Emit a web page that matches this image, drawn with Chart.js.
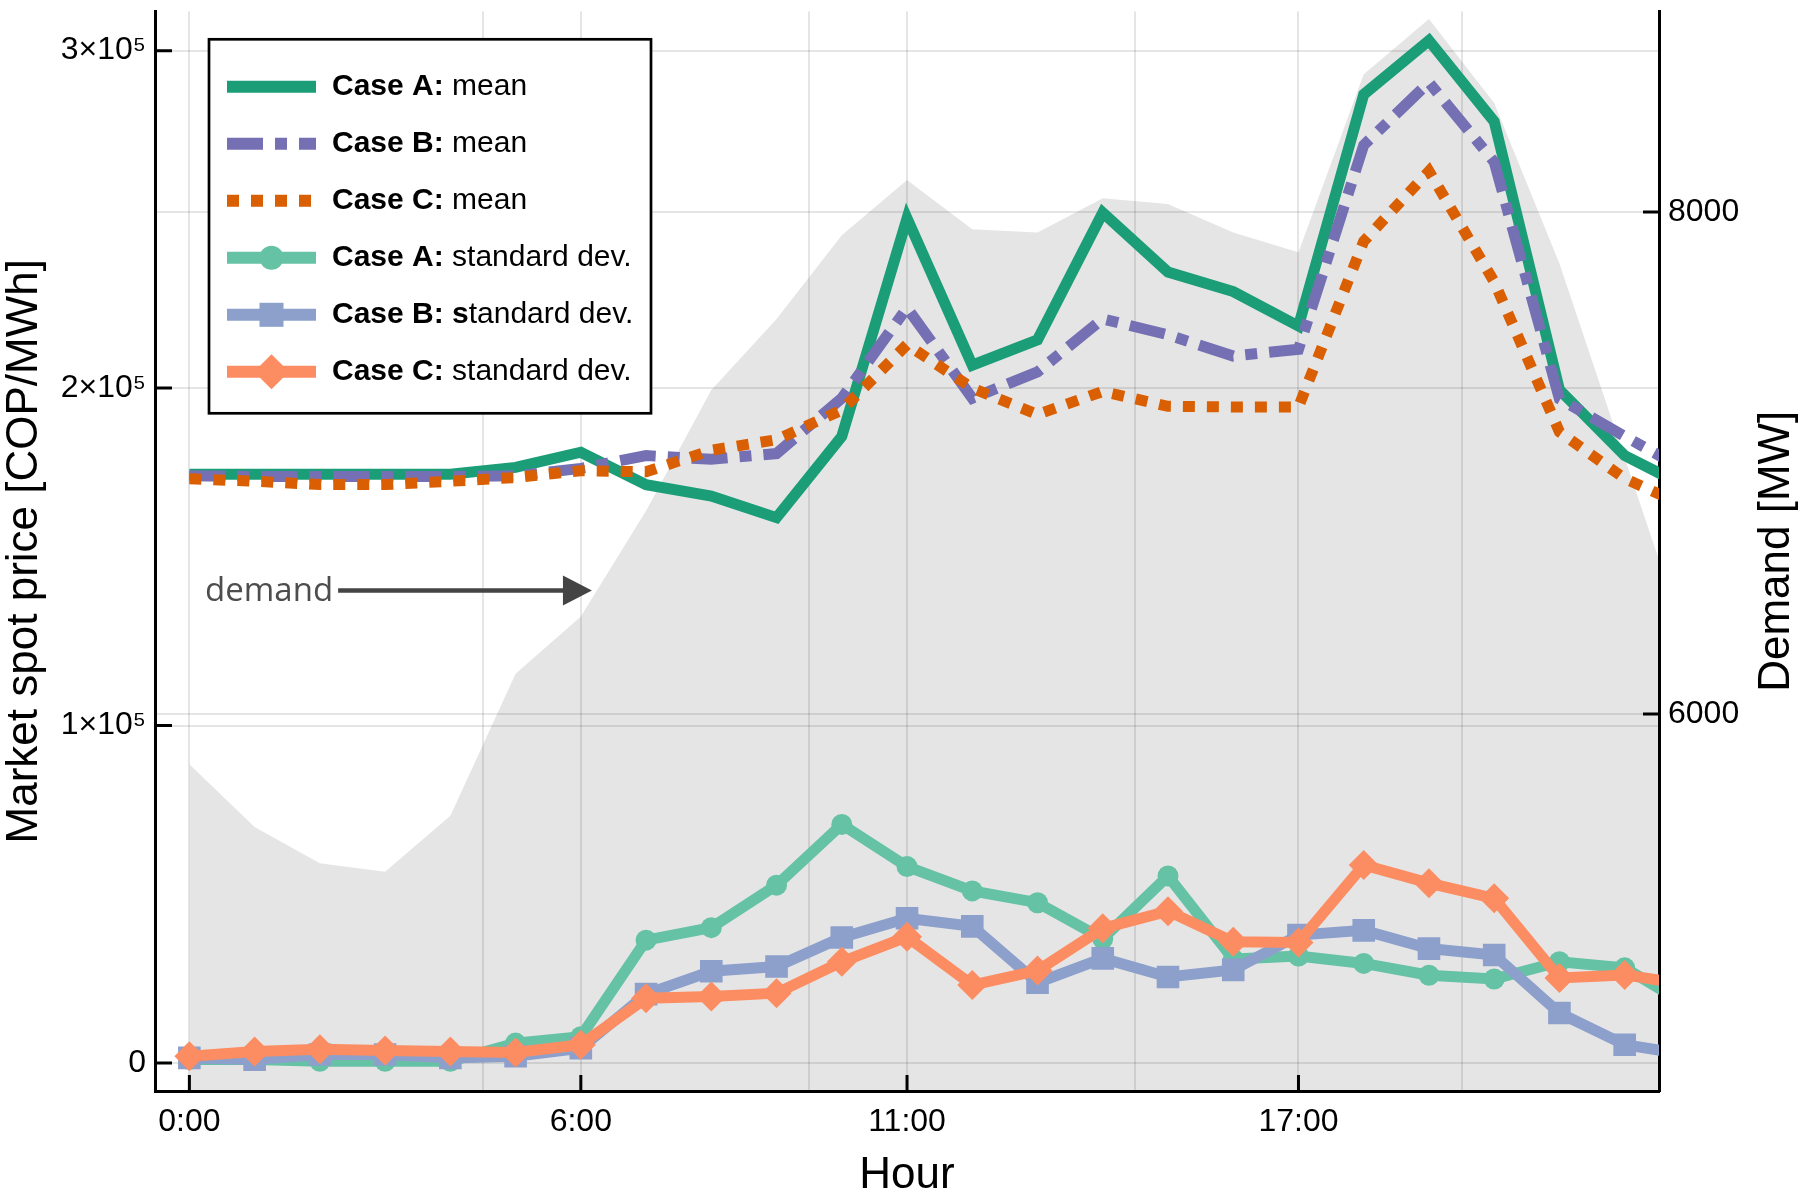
<!DOCTYPE html>
<html>
<head>
<meta charset="utf-8">
<script src="https://cdn.jsdelivr.net/npm/chart.js@4.4.1/dist/chart.umd.min.js"></script>
<style>
  html, body { margin: 0; padding: 0; background: #fff; }
  #wrap { width: 1800px; height: 1200px; position: relative; }
</style>
</head>
<body>
<div id="wrap"><canvas id="spotChart"></canvas></div>
<script>
// ===== DATA =====
const hours = [0, 1, 2, 3, 4, 5, 6, 7, 8, 9, 10, 11, 12, 13, 14, 15, 16, 17, 18, 19, 20, 21, 22, 23];

// system demand [MW] (right axis, grey area)
const demandMW = [5800, 5550, 5405, 5372, 5595, 6160, 6389, 6810, 7291, 7574, 7908, 8128,
                  7931, 7918, 8055, 8032, 7918, 7840, 8549, 8769, 8434, 7795, 7020, 6250];

// mean spot price [COP/MWh]
const meanCaseA = [174500, 174500, 174500, 174500, 174500, 176500, 181000, 171400, 168000, 161600, 185700, 250300,
                   206800, 214300, 252000, 234400, 228600, 218400, 287000, 303000, 279000, 199500, 180000, 170200];
const meanCaseB = [174000, 173800, 173800, 173800, 173800, 174000, 176200, 180000, 178900, 180600, 197000, 223800,
                   197000, 204800, 220500, 215800, 209500, 211500, 272000, 290600, 267000, 196800, 185700, 175000];
const meanCaseC = [173100, 172400, 171400, 171400, 172400, 173500, 175500, 175200, 181600, 184700, 193500, 212900,
                   200000, 192200, 199000, 194600, 194400, 194400, 243500, 264300, 231500, 187000, 173200, 164500];

// standard deviation of spot price [COP/MWh]
const stdCaseA = [1000, 1000, 500, 500, 500, 5900, 7800, 36400, 40100, 52700, 70700, 58200,
                  51000, 47500, 36800, 55400, 30800, 31700, 29500, 26000, 24900, 30000, 28200, 16700];
const stdCaseB = [1500, 1000, 2500, 2500, 1500, 2000, 4400, 20400, 27200, 28600, 37200, 42900,
                  40500, 23800, 31000, 25500, 27600, 37900, 39300, 33900, 32000, 14800, 5400, 2400];
const stdCaseC = [2000, 3400, 4100, 3700, 3400, 3100, 5400, 19200, 19700, 20700, 30000, 37400,
                  23100, 27400, 39900, 45000, 35900, 35700, 58700, 53300, 48800, 25200, 26100, 23200];

// ticks
const hourTicks = [0, 6, 11, 17];
const demandGridHours = [4.5, 9.5, 14.5, 19.5];
const priceTicks = [0, 100000, 200000, 300000];
const demandTicks = [6000, 8000];

// ===== STYLE =====
const FONT = '"Liberation Sans", Arial, sans-serif';
const GRID = 'rgba(0,0,0,0.1)';

function toXY(values) {
    return hours.map((h, i) => ({ x: h, y: values[i] }));
}

function lineSet(label, values, color, extra) {
    return Object.assign({
        label: label,
        data: toXY(values),
        borderColor: color,
        backgroundColor: color,
        pointBackgroundColor: color,
        pointBorderWidth: 0,
        pointRadius: 0,
        borderWidth: 11,
        borderCapStyle: 'butt',
        borderJoinStyle: 'miter',
        tension: 0,
        fill: false,
        clip: 0,
        yAxisID: 'y'
    }, extra);
}

const datasets = [
    {
        label: 'demand',
        data: toXY(demandMW),
        yAxisID: 'y2',
        fill: 'start',
        backgroundColor: 'rgba(0,0,0,0.1)',
        borderWidth: 0,
        pointRadius: 0,
        tension: 0,
        clip: 0,
        order: 10
    },
    lineSet('Case A:| mean', meanCaseA, '#1b9e77', { order: 6 }),
    lineSet('Case B:| mean', meanCaseB, '#7570b3', { order: 5, borderDash: [36, 12, 12, 12] }),
    lineSet('Case C:| mean', meanCaseC, '#d95f02', { order: 4, borderDash: [12, 12] }),
    lineSet('Case A:| standard dev.', stdCaseA, '#66c2a5', { order: 3, pointStyle: 'circle', pointRadius: 10.5, legendRadius: 12 }),
    lineSet('Case B: s|tandard dev.', stdCaseB, '#8da0cb', { order: 2, pointStyle: 'rect', pointRadius: 16, legendRadius: 17 }),
    lineSet('Case C:| standard dev.', stdCaseC, '#fc8d62', { order: 1, pointStyle: 'rectRot', pointRadius: 15, legendRadius: 17.5 })
];

// ===== PLUGINS =====
// inward tick marks on the three axes
const innerTicks = {
    id: 'innerTicks',
    afterDatasetsDraw(chart) {
        const { ctx, chartArea: a, scales } = chart;
        ctx.save();
        ctx.strokeStyle = '#000';
        ctx.lineWidth = 3;
        ctx.beginPath();
        priceTicks.forEach(v => {
            const y = scales.y.getPixelForValue(v);
            ctx.moveTo(a.left, y); ctx.lineTo(a.left + 17, y);
        });
        demandTicks.forEach(v => {
            const y = scales.y2.getPixelForValue(v);
            ctx.moveTo(a.right, y); ctx.lineTo(a.right - 16, y);
        });
        hourTicks.forEach(v => {
            const x = scales.x.getPixelForValue(v);
            ctx.moveTo(x, a.bottom); ctx.lineTo(x, a.bottom - 16);
        });
        ctx.stroke();
        ctx.restore();
    }
};

// "demand" note with arrow, placed in data coordinates
const demandNote = { textHour: 0.24, fromHour: 2.28, toHour: 6.17, price: 140000 };
const demandArrow = {
    id: 'demandArrow',
    afterDatasetsDraw(chart) {
        const { ctx, scales } = chart;
        const y = scales.y.getPixelForValue(demandNote.price);
        const x0 = scales.x.getPixelForValue(demandNote.textHour);
        const x1 = scales.x.getPixelForValue(demandNote.fromHour);
        const x2 = scales.x.getPixelForValue(demandNote.toHour);
        ctx.save();
        ctx.font = '33px "Open Sans", sans-serif';
        ctx.fillStyle = '#4d4d4d';
        ctx.textAlign = 'left';
        ctx.textBaseline = 'middle';
        ctx.fillText('demand', x0, y + 1);
        ctx.strokeStyle = '#444';
        ctx.fillStyle = '#444';
        ctx.lineWidth = 4.5;
        ctx.beginPath();
        ctx.moveTo(x1, y); ctx.lineTo(x2 - 26, y);
        ctx.stroke();
        ctx.beginPath();
        ctx.moveTo(x2, y); ctx.lineTo(x2 - 29, y - 15); ctx.lineTo(x2 - 29, y + 15);
        ctx.closePath();
        ctx.fill();
        ctx.restore();
    }
};

// right axis title, reading bottom to top like the left one
const rightTitle = {
    id: 'rightTitle',
    afterDraw(chart) {
        const { ctx, chartArea: a } = chart;
        ctx.save();
        ctx.translate(1777, (a.top + a.bottom) / 2);
        ctx.rotate(-Math.PI / 2);
        ctx.font = '44px ' + FONT;
        ctx.fillStyle = '#000';
        ctx.textAlign = 'center';
        ctx.textBaseline = 'middle';
        ctx.fillText('Demand [MW]', 0, 0);
        ctx.restore();
    }
};

// boxed legend with bold case names
const legendBox = {
    id: 'legendBox',
    afterDraw(chart) {
        const { ctx, chartArea: a } = chart;
        const bx = a.left + 54, by = a.top + 27.8, bw = 442, bh = 374;
        ctx.save();
        ctx.fillStyle = '#fff';
        ctx.fillRect(bx, by, bw, bh);
        ctx.lineWidth = 2.7;
        ctx.strokeStyle = '#000';
        ctx.strokeRect(bx, by, bw, bh);

        const lx0 = bx + 18, lx1 = bx + 107, tx = bx + 123;
        chart.data.datasets.slice(1).forEach((ds, i) => {
            const y = by + 47.5 + i * 57;
            ctx.beginPath();
            ctx.setLineDash(ds.borderDash || []);
            ctx.lineWidth = 12;
            ctx.lineCap = 'butt';
            ctx.strokeStyle = ds.borderColor;
            ctx.moveTo(lx0, y); ctx.lineTo(lx1, y);
            ctx.stroke();
            ctx.setLineDash([]);
            if (ds.pointRadius) {
                ctx.fillStyle = ds.borderColor;
                Chart.helpers.drawPoint(ctx, { pointStyle: ds.pointStyle, radius: ds.legendRadius, rotation: 0, borderWidth: 0 }, (lx0 + lx1) / 2, y);
            }
            const parts = ds.label.split('|');
            ctx.fillStyle = '#000';
            ctx.textBaseline = 'middle';
            ctx.textAlign = 'left';
            ctx.font = 'bold 30px ' + FONT;
            ctx.fillText(parts[0], tx, y);
            const w = ctx.measureText(parts[0]).width;
            ctx.font = '30px ' + FONT;
            ctx.fillText(parts[1], tx + w, y);
        });
        ctx.restore();
    }
};

// ===== CHART =====
const ctx = document.getElementById('spotChart').getContext('2d');

new Chart(ctx, {
    type: 'line',
    data: { datasets: datasets },
    options: {
        responsive: true,
        maintainAspectRatio: false,
        animation: false,
        events: [],
        layout: { autoPadding: false, padding: { top: 11.5, left: 0, right: 0, bottom: 0 } },
        plugins: {
            legend: { display: false },
            tooltip: { enabled: false }
        },
        scales: {
            x: {
                type: 'linear',
                position: 'bottom',
                min: -0.527,
                max: 22.526,
                afterBuildTicks: s => {
                    s.ticks = hourTicks.concat(demandGridHours).sort((p, q) => p - q).map(v => ({ value: v }));
                },
                afterFit: s => { s.height = 109; s.paddingLeft = 0; s.paddingRight = 0; },
                ticks: {
                    autoSkip: false,
                    maxRotation: 0,
                    padding: 12,
                    color: '#000',
                    font: { family: FONT, size: 32 },
                    callback: v => hourTicks.includes(v) ? v + ':00' : ''
                },
                grid: { color: GRID, lineWidth: 2, drawTicks: false },
                border: { color: '#000', width: 3 },
                title: {
                    display: true,
                    text: 'Hour',
                    color: '#000',
                    font: { family: FONT, size: 44 },
                    padding: { top: 0, bottom: -2.4 }
                }
            },
            y: {
                type: 'linear',
                position: 'left',
                min: -8300,
                max: 311600,
                afterBuildTicks: s => { s.ticks = priceTicks.map(v => ({ value: v })); },
                afterFit: s => { s.width = 155; s.paddingTop = 0; s.paddingBottom = 0; },
                ticks: {
                    padding: 9,
                    color: '#000',
                    font: { family: FONT, size: 32 },
                    callback: v => v === 0 ? '0' : (v / 100000) + '×10⁵'
                },
                grid: { color: GRID, lineWidth: 2, drawTicks: false },
                border: { color: '#000', width: 3 },
                title: {
                    display: true,
                    text: 'Market spot price [COP/MWh]',
                    color: '#000',
                    font: { family: FONT, size: 44 },
                    padding: { top: -1.4, bottom: 0 }
                }
            },
            y2: {
                type: 'linear',
                position: 'right',
                min: 4498,
                max: 8799,
                afterBuildTicks: s => { s.ticks = demandTicks.map(v => ({ value: v })); },
                afterFit: s => { s.width = 141; s.paddingTop = 0; s.paddingBottom = 0; },
                ticks: {
                    padding: 9,
                    color: '#000',
                    font: { family: FONT, size: 32 },
                    callback: v => String(v)
                },
                grid: { color: GRID, lineWidth: 2, drawTicks: false, drawOnChartArea: true },
                border: { color: '#000', width: 3 }
            }
        }
    },
    plugins: [innerTicks, demandArrow, rightTitle, legendBox]
});
</script>
</body>
</html>
